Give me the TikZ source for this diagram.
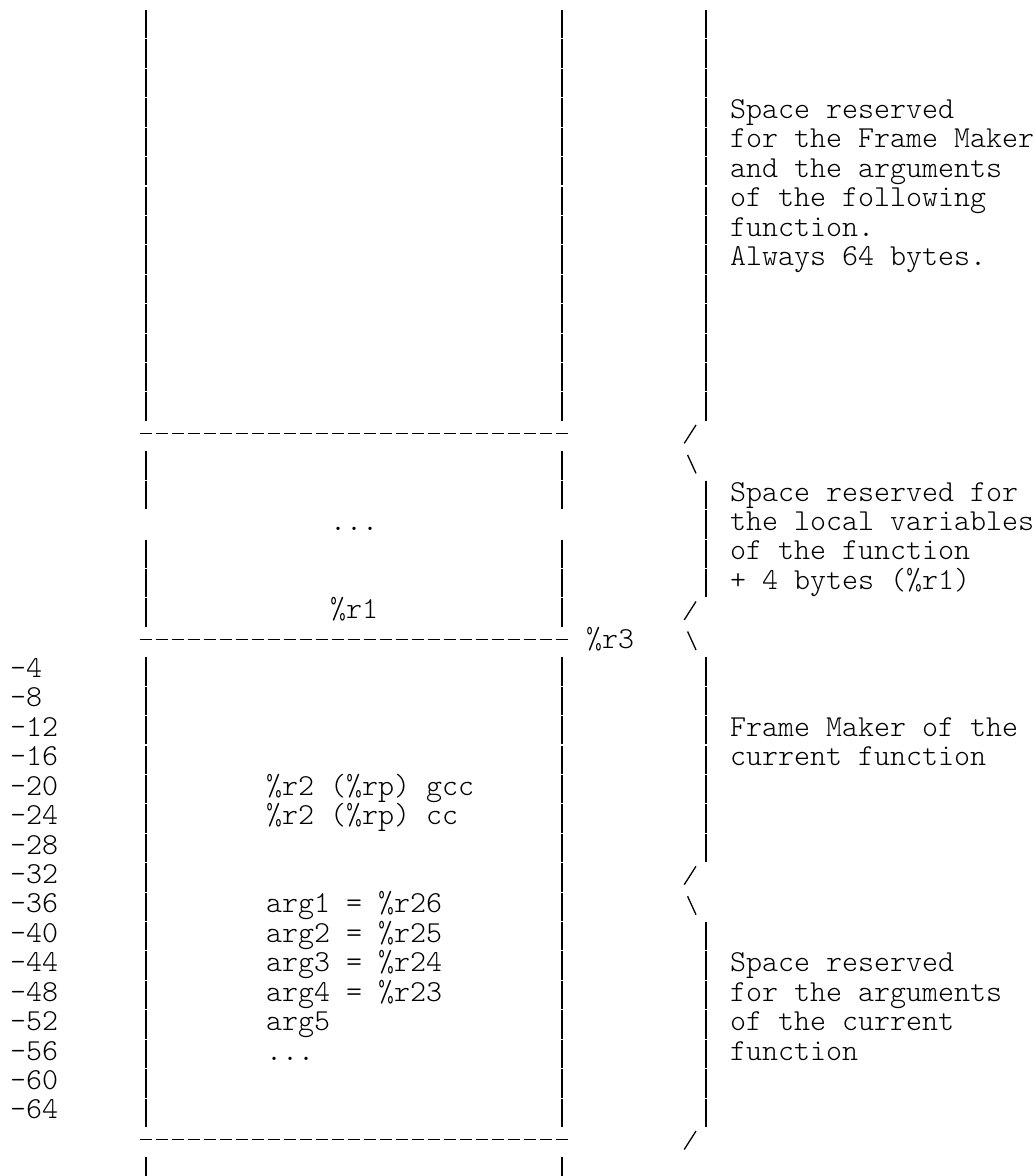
\documentclass[tikz,border=0pt]{standalone}
\usepackage{fontspec}
\newfontfamily\asciifont{lmmonolt10-regular.otf}

\tikzset{
  txt/.style={anchor=base west, inner sep=0pt, font=\asciifont\fontsize{30.48}{36}\selectfont},
  bar/.style={line width=1.4pt},
  rule/.style={line width=1.5pt, dash pattern=on 12.7pt off 3.3pt},
  tick/.style={line width=1.3pt}
}
\newcommand{\barrun}[3]{\foreach \r in {#2,...,#3} \draw[bar] (#1+0.5,\r) -- (#1+0.5,\r+0.965);}

\begin{document}
\begin{tikzpicture}[x=16pt, y=-29.42pt]
\useasboundingbox (-0.625,-0.34) rectangle (64.125,39.633);

%stack walls
\foreach \c in {8,34} {
  \barrun{\c}{0}{13}
  \barrun{\c}{15}{16}
  \barrun{\c}{18}{20}
  \barrun{\c}{22}{37}
  \draw[bar] (\c+0.5,39) -- (\c+0.5,39.965);
}

%frame borders
\foreach \r in {14,21,38} \draw[rule] (8.103,\r+0.39) -- (34.897,\r+0.39);

%braces
\barrun{43}{0}{13}
\barrun{43}{16}{19}
\barrun{43}{22}{28}
\barrun{43}{31}{37}
\foreach \r in {14,20,29,38} \draw[tick] (42.14,\r+0.73) -- (42.875,\r+0.105);
\foreach \r in {15,21,30} \draw[tick] (42.35,\r+0.125) -- (42.875,\r+0.75);

%next frame
\node[txt] (next1) at (45,3.69) {Space reserved};
\node[txt] (next2) at (45,4.69) {for the Frame Maker};
\node[txt] (next3) at (45,5.69) {and the arguments};
\node[txt] (next4) at (45,6.69) {of the following};
\node[txt] (next5) at (45,7.69) {function.};
\node[txt] (next6) at (45,8.69) {Always 64 bytes.};

%locals
\node[txt] (locdots) at (20,17.69) {...};
\node[txt] (r1) at (20,20.69) {\%r1};
\node[txt] (r3) at (36,21.69) {\%r3};
\node[txt] (loc1) at (45,16.69) {Space reserved for};
\node[txt] (loc2) at (45,17.69) {the local variables};
\node[txt] (loc3) at (45,18.69) {of the function};
\node[txt] (loc4) at (45,19.69) {+ 4 bytes (\%r1)};

%frame maker
\node[txt] (fm1) at (45,24.69) {Frame Maker of the};
\node[txt] (fm2) at (45,25.69) {current function};
\node[txt] (rpgcc) at (16,26.69) {\%r2 (\%rp) gcc};
\node[txt] (rpcc) at (16,27.69) {\%r2 (\%rp) cc};

%offsets
\foreach \o [count=\i from 22] in {4,8,...,64}
  \node[txt] (off\o) at (0,\i+0.69) {-\o};

%args
\node[txt] (arg1) at (16,30.69) {arg1 = \%r26};
\node[txt] (arg2) at (16,31.69) {arg2 = \%r25};
\node[txt] (arg3) at (16,32.69) {arg3 = \%r24};
\node[txt] (arg4) at (16,33.69) {arg4 = \%r23};
\node[txt] (arg5) at (16,34.69) {arg5};
\node[txt] (argdots) at (16,35.69) {...};
\node[txt] (args1) at (45,32.69) {Space reserved};
\node[txt] (args2) at (45,33.69) {for the arguments};
\node[txt] (args3) at (45,34.69) {of the current};
\node[txt] (args4) at (45,35.69) {function};
\end{tikzpicture}
\end{document}
